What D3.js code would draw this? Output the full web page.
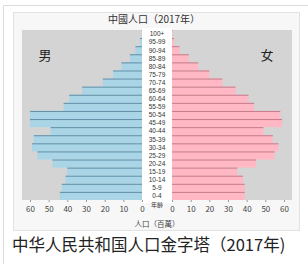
<!DOCTYPE html>
<html>
<head>
<meta charset="utf-8">
<script src="https://cdn.jsdelivr.net/npm/d3@7"></script>
<style>
  body { margin: 0; background: #fff; }
  text { font-family: "Noto Sans CJK TC", "Noto Sans", sans-serif; }
</style>
</head>
<body>
<div id="chart"></div>
<script>
const width = 308;
const height = 264;

// age groups, bottom to top
const ages = ["0-4", "5-9", "10-14", "15-19", "20-24", "25-29", "30-34", "35-39", "40-44",
  "45-49", "50-54", "55-59", "60-64", "65-69", "70-74", "75-79", "80-84", "85-89",
  "90-94", "95-99", "100+"];
// population, millions
const male = [44, 43, 41, 40, 48, 56, 59, 58, 49, 60, 60, 42, 39, 32, 21, 15.5, 11, 6.5, 3.5, 1, 0.2];
const female = [39, 39, 38, 35, 45, 55, 57, 54, 49, 59, 58, 44, 41, 34, 27, 20, 14, 9, 4, 1, 0.3];
const ticks = [0, 10, 20, 30, 40, 50, 60];

const svg = d3.select("#chart")
  .append("svg")
    .attr("width", width)
    .attr("height", height);

// thumbnail frame
svg.append("path")
  .attr("d", "M3.5,264 V5.5 H308")
  .attr("fill", "none")
  .attr("stroke", "#dcdcdc");

// chart image box
svg.append("rect")
  .attr("x", 13.5).attr("y", 12.5)
  .attr("width", 286).attr("height", 218)
  .attr("fill", "#f7f7f7")
  .attr("stroke", "#e2e2e2");

const xL = d3.scaleLinear().domain([0, 64.3]).range([142, 22]);
const xR = d3.scaleLinear().domain([0, 64.3]).range([172, 292]);
const y = d3.scaleBand().domain(ages.slice().reverse()).range([30, 200]);

// plot backgrounds
svg.append("rect")
  .attr("x", xL(64.3)).attr("y", 30)
  .attr("width", xL(0) - xL(64.3)).attr("height", 170)
  .attr("fill", "#d4d4d4");
svg.append("rect")
  .attr("x", xR(0)).attr("y", 30)
  .attr("width", xR(64.3) - xR(0)).attr("height", 170)
  .attr("fill", "#d4d4d4");
// label column
svg.append("rect")
  .attr("x", 142).attr("y", 28)
  .attr("width", 30).attr("height", 175)
  .attr("fill", "#ffffff");

const rows = ages.map((a, i) => ({age: a, m: male[i], f: female[i]}));

//male bars
svg.selectAll(".mbar")
  .data(rows)
  .join("rect")
    .attr("class", "mbar")
    .attr("x", d => xL(d.m))
    .attr("y", d => y(d.age))
    .attr("width", d => xL(0) - xL(d.m))
    .attr("height", y.bandwidth())
    .attr("fill", "#a9d5e7");
svg.selectAll(".mline")
  .data(rows)
  .join("line")
    .attr("class", "mline")
    .attr("x1", d => xL(d.m)).attr("x2", xL(0))
    .attr("y1", d => y(d.age) + 0.5).attr("y2", d => y(d.age) + 0.5)
    .attr("stroke", "#4d7d98")
    .attr("stroke-opacity", 0.8);

//female bars
svg.selectAll(".fbar")
  .data(rows)
  .join("rect")
    .attr("class", "fbar")
    .attr("x", xR(0))
    .attr("y", d => y(d.age))
    .attr("width", d => xR(d.f) - xR(0))
    .attr("height", y.bandwidth())
    .attr("fill", "#ffb8c4");
svg.selectAll(".fline")
  .data(rows)
  .join("line")
    .attr("class", "fline")
    .attr("x1", xR(0)).attr("x2", d => xR(d.f))
    .attr("y1", d => y(d.age) + 0.5).attr("y2", d => y(d.age) + 0.5)
    .attr("stroke", "#b86a7a")
    .attr("stroke-opacity", 0.8);

// age labels
svg.selectAll(".age")
  .data(ages)
  .join("text")
    .attr("class", "age")
    .attr("x", 157)
    .attr("y", d => y(d) + y.bandwidth() / 2 + 2.3)
    .attr("text-anchor", "middle")
    .attr("font-size", 6.5)
    .attr("fill", "#333")
    .style("font-family", "'Liberation Sans', sans-serif")
    .text(d => d);

svg.append("text")
  .attr("x", 157).attr("y", 207)
  .attr("text-anchor", "middle")
  .attr("font-size", 6)
  .attr("fill", "#333")
  .text("年齡");

// axes
const axisL = d3.axisBottom(xL).tickValues(ticks).tickSize(2).tickPadding(4);
const axisR = d3.axisBottom(xR).tickValues(ticks).tickSize(2).tickPadding(4);
[axisL, axisR].forEach(ax => {
  const g = svg.append("g")
    .attr("transform", "translate(0,200)")
    .call(ax);
  g.select(".domain").remove();
  g.selectAll("line").attr("stroke", "#999");
  g.selectAll("text")
    .attr("font-size", 8)
    .attr("fill", "#444")
    .attr("font-family", "DejaVu Sans, sans-serif");
});

svg.append("text")
  .attr("x", 157).attr("y", 227)
  .attr("text-anchor", "middle")
  .attr("font-size", 7.5)
  .attr("fill", "#444")
  .text("人口（百萬）");

// title
svg.append("text")
  .attr("x", 154).attr("y", 23)
  .attr("text-anchor", "middle")
  .attr("font-size", 10)
  .attr("fill", "#333")
  .text("中國人口（2017年）");

svg.append("text")
  .attr("x", 45).attr("y", 60)
  .attr("text-anchor", "middle")
  .attr("font-size", 13)
  .attr("fill", "#222")
  .text("男");
svg.append("text")
  .attr("x", 267).attr("y", 60)
  .attr("text-anchor", "middle")
  .attr("font-size", 13)
  .attr("fill", "#222")
  .text("女");

// caption
svg.append("text")
  .attr("x", 12).attr("y", 251)
  .attr("font-size", 16.5)
  .attr("fill", "#222")
  .style("font-family", "'Noto Sans CJK SC', sans-serif")
  .text("中华人民共和国人口金字塔（2017年)");
</script>
</body>
</html>
